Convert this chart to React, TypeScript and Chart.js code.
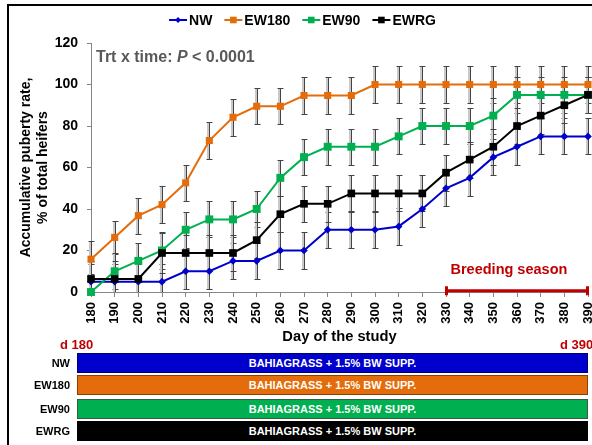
import React, { useEffect, useRef } from 'react';
import { Chart, registerables } from 'chart.js';

Chart.register(...registerables);

const FONT = "'Liberation Sans', Arial, Helvetica, sans-serif";

// ---- data ----
const DAYS = ['180', '190', '200', '210', '220', '230', '240', '250', '260', '270', '280', '290', '300', '310', '320', '330', '340', '350', '360', '370', '380', '390'];
const SERIES_NAMES = ['NW', 'EW180', 'EW90', 'EWRG'];
const SERIES_COLORS = ['#0000CC', '#E46C0A', '#00B050', '#000000'];

const NW = [5, 5, 5, 5, 10, 10, 15, 15, 20, 20, 30, 30, 30, 31.6, 40, 50, 55, 65, 70, 75, 75, 75];
const EW180 = [15.8, 26.3, 36.8, 42.1, 52.6, 73, 84.2, 89.5, 89.5, 94.7, 94.7, 94.7, 100, 100, 100, 100, 100, 100, 100, 100, 100, 100];
const EW90 = [0, 10, 15, 20, 30, 35, 35, 40, 55, 65, 70, 70, 70, 75, 80, 80, 80, 85, 95, 95, 95, 95];
const EWRG = [6.3, 6.3, 6.3, 18.8, 18.8, 18.8, 18.8, 25, 37.5, 42.5, 42.5, 47.5, 47.5, 47.5, 47.5, 57.5, 63.8, 70, 80, 85, 90, 95];

const NW_SE = [8.5, 8.5, 8.5, 8.6, 8.7, 8.7, 8.7, 8.7, 8.8, 8.8, 8.7, 8.7, 8.6, 9.0, 8.8, 8.7, 8.7, 8.7, 8.7, 8.7, 8.7, 8.7];
const EW180_SE = [9.0, 8.0, 8.7, 8.9, 8.8, 8.7, 8.8, 8.6, 8.6, 8.7, 8.7, 8.7, 8.7, 8.7, 8.7, 8.7, 8.7, 8.7, 8.7, 8.7, 8.7, 8.7];
const EW90_SE = [8.5, 8.7, 8.7, 8.7, 8.7, 8.7, 8.7, 8.7, 8.7, 8.7, 8.7, 8.7, 8.7, 8.7, 8.7, 8.7, 8.7, 8.7, 8.7, 8.7, 8.7, 8.7];
const EWRG_SE = [8.7, 8.7, 8.7, 9.5, 8.7, 8.7, 8.7, 8.7, 8.7, 8.7, 8.7, 8.7, 8.7, 8.7, 8.7, 8.7, 8.7, 8.7, 8.7, 8.7, 8.7, 8.7];

const Y_MIN = 0;
const Y_MAX = 120;
const Y_STEP = 20;

const BREEDING_START = '330';
const BREEDING_END = '390';
const BAR_TEXT = 'BAHIAGRASS + 1.5% BW SUPP.';
const BAR_FILLS = ['#0000CC', '#E46C0A', '#00B050', '#000000'];
const BAR_BORDERS = ['#00006a', '#8a3f05', '#3a5a46', '#000000'];

const SERIES = [NW, EW180, EW90, EWRG];
const ERRORS = [NW_SE, EW180_SE, EW90_SE, EWRG_SE];
const POINT_STYLES = ['rectRot', 'rect', 'rect', 'rect'];
const POINT_RADII = [3.8, 5, 5.6, 5.4];
const ORDERS = [3, 2, 1, 0];

function drawMarker(ctx: CanvasRenderingContext2D, style: string, x: number, y: number, s: number, color: string) {
  ctx.fillStyle = color;
  ctx.beginPath();
  if (style === 'rectRot') {
    ctx.moveTo(x, y - s);
    ctx.lineTo(x + s, y);
    ctx.lineTo(x, y + s);
    ctx.lineTo(x - s, y);
    ctx.closePath();
  } else {
    ctx.rect(x - s, y - s, 2 * s, 2 * s);
  }
  ctx.fill();
}

const errorBarPlugin = {
  id: 'errorBars',
  beforeDatasetsDraw(chart: any) {
    const { ctx, chartArea, scales } = chart;
    const ys = scales.y;
    ctx.save();
    ctx.beginPath();
    ctx.rect(chartArea.left - 5, chartArea.top - 2, chartArea.right - chartArea.left + 20, chartArea.bottom - chartArea.top + 2);
    ctx.clip();
    ERRORS.forEach((errs, i) => {
      const meta = chart.getDatasetMeta(i);
      const data = chart.data.datasets[i].data as number[];
      meta.data.forEach((pt: any, j: number) => {
        const x = Math.round(pt.x) + 0.5;
        const t = Math.round(ys.getPixelForValue(data[j] + errs[j])) + 0.5;
        const b = Math.round(ys.getPixelForValue(data[j] - errs[j])) + 0.5;
        ctx.strokeStyle = '#c9c9c9';
        ctx.lineWidth = 2;
        ctx.beginPath();
        ctx.moveTo(x - 1.5, t);
        ctx.lineTo(x - 1.5, b);
        ctx.stroke();
        ctx.strokeStyle = '#444444';
        ctx.lineWidth = 1;
        ctx.beginPath();
        ctx.moveTo(x, t);
        ctx.lineTo(x, b);
        ctx.moveTo(x - 3, t);
        ctx.lineTo(x + 3, t);
        ctx.moveTo(x - 3, b);
        ctx.lineTo(x + 3, b);
        ctx.stroke();
      });
    });
    ctx.restore();
  },
};

const legendPlugin = {
  id: 'customLegend',
  afterDraw(chart: any) {
    const ctx: CanvasRenderingContext2D = chart.ctx;
    ctx.save();
    ctx.font = `bold 14px ${FONT}`;
    ctx.textBaseline = 'middle';
    const lineLen = 18;
    const gapText = 2;
    const gapItem = 12;
    const ds = chart.data.datasets;
    const widths = ds.map((d: any) => lineLen + gapText + ctx.measureText(d.label).width);
    const total = widths.reduce((a: number, b: number) => a + b, 0) + gapItem * (ds.length - 1);
    let x = 302.5 - total / 2;
    const y = 20;
    ds.forEach((d: any, i: number) => {
      ctx.strokeStyle = d.borderColor;
      ctx.lineWidth = 2;
      ctx.beginPath();
      ctx.moveTo(x, y);
      ctx.lineTo(x + lineLen, y);
      ctx.stroke();
      drawMarker(ctx, d.pointStyle, x + lineLen / 2, y, d.pointStyle === 'rectRot' ? 3 : 3.3, d.borderColor);
      ctx.fillStyle = '#000';
      ctx.fillText(d.label, x + lineLen + gapText, y + 1);
      x += widths[i] + gapItem;
    });
    ctx.restore();
  },
};

const annotationPlugin = {
  id: 'annotations',
  afterDraw(chart: any) {
    const ctx: CanvasRenderingContext2D = chart.ctx;
    const { chartArea, scales } = chart;
    const xs = scales.x;
    const ys = scales.y;
    ctx.save();
    // Trt x time annotation
    ctx.textBaseline = 'alphabetic';
    ctx.fillStyle = '#595959';
    let tx = chartArea.left + 5;
    const ty = 62;
    ctx.font = `bold 16px ${FONT}`;
    const p1 = 'Trt x time: ';
    ctx.fillText(p1, tx, ty);
    tx += ctx.measureText(p1).width;
    ctx.font = `italic bold 16px ${FONT}`;
    ctx.fillText('P', tx, ty);
    tx += ctx.measureText('P').width;
    ctx.font = `bold 16px ${FONT}`;
    ctx.fillText(' < 0.0001', tx, ty);

    // Breeding season bar
    const x0 = xs.getPixelForValue(DAYS.indexOf(BREEDING_START));
    const x1 = xs.getPixelForValue(DAYS.indexOf(BREEDING_END));
    const yb = ys.getPixelForValue(0) - 1.3;
    ctx.strokeStyle = '#C00000';
    ctx.lineWidth = 3;
    ctx.beginPath();
    ctx.moveTo(x0, yb);
    ctx.lineTo(x1, yb);
    ctx.stroke();
    ctx.lineWidth = 3;
    ctx.beginPath();
    ctx.moveTo(x0 + 0.5, yb - 4.5);
    ctx.lineTo(x0 + 0.5, yb + 4.5);
    ctx.moveTo(x1 - 0.5, yb - 4.5);
    ctx.lineTo(x1 - 0.5, yb + 4.5);
    ctx.stroke();
    ctx.fillStyle = '#C00000';
    ctx.font = `bold 14.5px ${FONT}`;
    ctx.textBaseline = 'middle';
    ctx.fillText('Breeding season', x0 + 4.5, 270);
    ctx.restore();
  },
};

export default function App() {
  const ref = useRef<HTMLCanvasElement>(null);

  useEffect(() => {
    if (!ref.current) return;
    const chart = new Chart(ref.current, {
      type: 'line',
      data: {
        labels: DAYS,
        datasets: SERIES.map((data, i) => ({
          label: SERIES_NAMES[i],
          data,
          borderColor: SERIES_COLORS[i],
          backgroundColor: SERIES_COLORS[i],
          pointBackgroundColor: SERIES_COLORS[i],
          pointBorderColor: SERIES_COLORS[i],
          pointBorderWidth: 0,
          pointStyle: POINT_STYLES[i] as any,
          pointRadius: POINT_RADII[i],
          borderWidth: 2,
          tension: 0,
          fill: false,
          clip: false as any,
          order: ORDERS[i],
        })),
      },
      options: {
        responsive: false,
        animation: false,
        devicePixelRatio: 1,
        layout: { padding: { top: 43, right: 32, left: 0, bottom: 0 } },
        plugins: {
          legend: { display: false },
          tooltip: { enabled: false },
        },
        scales: {
          x: {
            type: 'category',
            offset: false,
            afterFit: (s: any) => {
              s.height = 153;
            },
            grid: { drawOnChartArea: false, drawTicks: true, tickLength: 5, color: '#868686' },
            border: { color: '#868686', width: 1 },
            ticks: {
              autoSkip: false,
              minRotation: 90,
              maxRotation: 90,
              padding: 5,
              color: '#000',
              font: { family: FONT, size: 13, weight: 'bold' },
            },
            title: {
              display: true,
              text: 'Day of the study',
              color: '#000',
              font: { family: FONT, size: 14.7, weight: 'bold' },
              padding: { top: 0, bottom: 99 },
            },
          },
          y: {
            min: Y_MIN,
            max: Y_MAX,
            afterFit: (s: any) => {
              s.width = 91;
            },
            grid: { drawOnChartArea: false, drawTicks: true, tickLength: 4, color: '#868686' },
            border: { color: '#868686', width: 1 },
            ticks: {
              stepSize: Y_STEP,
              padding: 9,
              color: '#000',
              font: { family: FONT, size: 14, weight: 'bold' },
            },
            title: {
              display: true,
              text: ['Accumulative puberty rate,', '% of total heifers'],
              color: '#000',
              font: { family: FONT, size: 14, weight: 'bold' },
              padding: { top: 18, bottom: 0 },
            },
          },
        },
      },
      plugins: [errorBarPlugin, annotationPlugin, legendPlugin],
    });
    return () => chart.destroy();
  }, []);

  const barTops = [353, 375, 399, 421];

  return (
    <div
      style={{
        position: 'fixed',
        left: 0,
        top: 0,
        width: 592,
        height: 445,
        overflow: 'hidden',
        background: '#fff',
        fontFamily: FONT,
      }}
    >
      <canvas
        ref={ref}
        width={620}
        height={445}
        style={{ position: 'absolute', left: 0, top: 0, width: 620, height: 445 }}
      />
      <div
        style={{
          position: 'absolute',
          left: 7,
          top: 4,
          width: 700,
          height: 600,
          borderLeft: '2px solid #000',
          borderTop: '2px solid #000',
          pointerEvents: 'none',
        }}
      />
      <div
        style={{
          position: 'absolute',
          left: 60,
          top: 337,
          fontSize: 13,
          fontWeight: 'bold',
          color: '#C00000',
          lineHeight: '16px',
          whiteSpace: 'nowrap',
        }}
      >
        d 180
      </div>
      <div
        style={{
          position: 'absolute',
          left: 560,
          top: 337,
          fontSize: 13,
          fontWeight: 'bold',
          color: '#C00000',
          lineHeight: '16px',
          whiteSpace: 'nowrap',
        }}
      >
        d 390
      </div>
      {SERIES_NAMES.map((name, i) => (
        <React.Fragment key={name}>
          <div
            style={{
              position: 'absolute',
              left: 0,
              width: 70,
              top: barTops[i],
              height: 20,
              lineHeight: '20px',
              textAlign: 'right',
              fontSize: 11,
              fontWeight: 'bold',
              color: '#000',
            }}
          >
            {name}
          </div>
          <div
            style={{
              position: 'absolute',
              left: 77,
              width: 511,
              top: barTops[i],
              height: 20,
              boxSizing: 'border-box',
              background: BAR_FILLS[i],
              border: `1px solid ${BAR_BORDERS[i]}`,
              color: '#fff',
              fontSize: 11,
              fontWeight: 'bold',
              lineHeight: '18px',
              textAlign: 'center',
              whiteSpace: 'nowrap',
            }}
          >
            {BAR_TEXT}
          </div>
        </React.Fragment>
      ))}
    </div>
  );
}
